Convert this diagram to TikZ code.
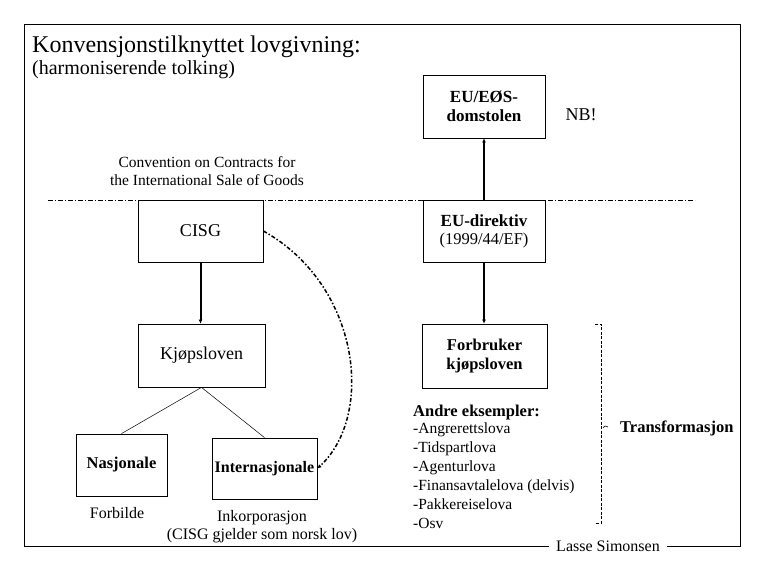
\documentclass[tikz,border=0pt]{standalone}
\usepackage{fontspec}
\setmainfont{Liberation Serif}
\usetikzlibrary{arrows.meta}
\begin{document}
\begin{tikzpicture}[x=1pt,y=-1pt,
  box/.style={draw, line width=0.8pt, fill=white, inner sep=0pt, align=center},
  conn/.style={line width=2pt, -{Latex[length=4pt,width=4pt]}},
  thinline/.style={line width=0.5pt},
  lbl/.style={inner sep=0pt, anchor=base, align=center},
  lblw/.style={inner sep=0pt, anchor=base west, align=left},
  boxfont/.style={font=\fontsize{18}{21}\selectfont},
  boldfont/.style={font=\fontsize{16.5}{19}\selectfont\bfseries},
  smallfont/.style={font=\fontsize{15.5}{19}\selectfont}]
\useasboundingbox (0,0) rectangle (765,570);
% frame
\draw[line width=0.8pt] (24,24) rectangle (740,546);
\node[fill=white, inner xsep=7pt, inner ysep=1pt, font=\fontsize{16}{18}\selectfont] (sig) at (608,546) {Lasse Simonsen};
% titles
\node[lblw, font=\fontsize{24}{27}\selectfont] (title) at (32,52) {Konvensjonstilknyttet lovgivning:};
\node[lblw, font=\fontsize{20}{23}\selectfont] (sub) at (32,74) {(harmoniserende tolking)};
\node[lbl, font=\fontsize{15.5}{18}\selectfont] (conv) at (207,185) {Convention on Contracts for\\the International Sale of Goods};
% dash-dot separator
\coordinate (sepL) at (48,200);
\coordinate (sepR) at (695,200);
\draw[line width=0.6pt, dash pattern=on 5pt off 2pt on 1pt off 2pt] (sepL) -- (sepR);
% boxes
\node[box, boxfont, minimum width=125pt, minimum height=62pt] (cisg) at (200.5,231) {CISG};
\node[box, boxfont, minimum width=127pt, minimum height=63pt] (kjop) at (201.5,355.5) {Kjøpsloven};
\node[box, boldfont, minimum width=91pt, minimum height=62pt] (nasj) at (121.5,465) {Nasjonale};
\node[box, font=\fontsize{16}{19}\selectfont\bfseries, minimum width=105pt, minimum height=61pt] (intl) at (264.5,468.5) {Internasjonale};
\node[box, font=\fontsize{17}{19}\selectfont\bfseries, minimum width=122pt, minimum height=63pt] (dom) at (484,106.5) {EU/EØS-\\domstolen};
\node[box, minimum width=122pt, minimum height=62pt] (eudir) at (484,231) {{\fontsize{17}{20}\selectfont\bfseries EU-direktiv}\\[6pt]{\fontsize{16.5}{18}\selectfont (1999/44/EF)}};
\node[box, boldfont, minimum width=125pt, minimum height=64pt] (forbr) at (484.5,356) {Forbruker\\kjøpsloven};
% labels
\node[lbl, font=\fontsize{18}{21}\selectfont] (nb) at (581,120) {NB!};
\node[lbl, font=\fontsize{16}{19}\selectfont] (forbilde) at (117,518) {Forbilde};
\node[lbl, font=\fontsize{16}{18}\selectfont] (inkorp) at (262,539) {Inkorporasjon\\(CISG gjelder som norsk lov)};
\node[lblw, boldfont] (andre) at (413,416) {Andre eksempler:};
\node[lblw, smallfont] (liste) at (413,528) {-Angrerettslova\\-Tidspartlova\\-Agenturlova\\-Finansavtalelova (delvis)\\-Pakkereiselova\\-Osv};
\node[lblw, boldfont] (transf) at (620,432) {Transformasjon};
% connectors
\draw[conn] (cisg.south) -- (cisg.south |- kjop.north);
\draw[conn] (eudir.north) -- (dom.south);
\draw[conn] (eudir.south) -- (eudir.south |- forbr.north);
\draw[thinline] (kjop.south) -- (nasj.north);
\draw[thinline] (kjop.south) -- (intl.north);
\draw[line width=1.5pt, dash pattern=on 4pt off 2pt on 1.5pt off 2pt, -{Latex[length=4pt,width=4pt]}]
  (cisg.east) .. controls (360,285) and (375,415) .. (intl.east);
% bracket
\coordinate (bt) at (595,324);
\coordinate (bb) at (595,523);
\coordinate (bm) at (608,427);
\draw[line width=0.6pt, dash pattern=on 3pt off 1.5pt] (bt) -- (601,324) -- (601,523) -- (bb);
\draw[line width=0.6pt] (603,428) .. controls (605,425) and (606,426) .. (bm);
\end{tikzpicture}
\end{document}
